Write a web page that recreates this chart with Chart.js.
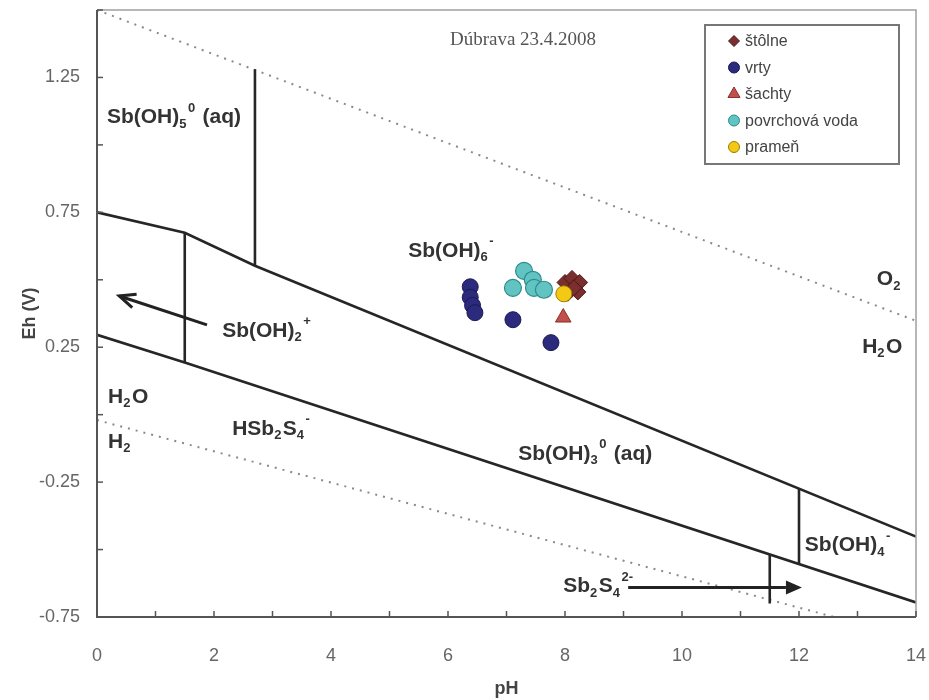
<!DOCTYPE html>
<html>
<head>
<meta charset="utf-8">
<script src="https://cdn.jsdelivr.net/npm/chart.js@4.4.1/dist/chart.umd.min.js"></script>
<style>
  html, body { margin: 0; padding: 0; background: #fff; }
  #wrap { width: 929px; height: 700px; }
</style>
</head>
<body>
<div id="wrap"><canvas id="c" width="929" height="700"></canvas></div>
<script>
// measured samples (pH, Eh in V)
const stolnePH = [8.0, 8.12, 8.25, 8.22, 8.05, 8.15];
const stolneEh = [0.49, 0.505, 0.49, 0.455, 0.45, 0.47];
const vrtyPH = [6.38, 6.38, 6.42, 6.46, 7.11, 7.76];
const vrtyEh = [0.474, 0.435, 0.405, 0.378, 0.352, 0.267];
const sachtyPH = [7.97];
const sachtyEh = [0.36];
const povrchPH = [7.30, 7.11, 7.45, 7.47, 7.64];
const povrchEh = [0.533, 0.47, 0.50, 0.47, 0.463];
const pramenPH = [7.98];
const pramenEh = [0.448];

// stability field boundaries
const upperPH = [0, 1.5, 2.7, 14];
const upperEh = [0.75, 0.674, 0.552, -0.452];
const lowerPH = [0, 1.5, 14];
const lowerEh = [0.296, 0.193, -0.696];
const vertPH = [2.7, 1.5, 12, 11.5];
const vertTop = [1.28, 0.674, -0.274, -0.518];
const vertBottom = [0.552, 0.193, -0.554, -0.70];
// water stability limits
const o2PH = [0, 14];
const o2Eh = [1.5, 0.348];
const h2PH = [0, 12.6];
const h2Eh = [-0.02, -0.75];

const yTicks = [-0.75, -0.25, 0.25, 0.75, 1.25];
const xTicks = [0, 2, 4, 6, 8, 10, 12, 14];

// species labels: segments [text, "n" | "sub" | "sup"]
const species = [
  { ph: 0.17, eh: 1.08, seg: [["Sb(OH)", "n"], ["5", "sub"], ["0", "sup"], [" (aq)", "n"]] },
  { ph: 5.32, eh: 0.585, seg: [["Sb(OH)", "n"], ["6", "sub"], ["-", "sup"]] },
  { ph: 2.14, eh: 0.289, seg: [["Sb(OH)", "n"], ["2", "sub"], ["+", "sup"]] },
  { ph: 13.33, eh: 0.481, seg: [["O", "n"], ["2", "sub"]] },
  { ph: 13.08, eh: 0.23, seg: [["H", "n"], ["2", "sub"], ["O", "n"]] },
  { ph: 0.19, eh: 0.044, seg: [["H", "n"], ["2", "sub"], ["O", "n"]] },
  { ph: 0.19, eh: -0.122, seg: [["H", "n"], ["2", "sub"]] },
  { ph: 2.31, eh: -0.074, seg: [["HSb", "n"], ["2", "sub"], ["S", "n"], ["4", "sub"], ["-", "sup"]] },
  { ph: 7.2, eh: -0.167, seg: [["Sb(OH)", "n"], ["3", "sub"], ["0", "sup"], [" (aq)", "n"]] },
  { ph: 12.1, eh: -0.507, seg: [["Sb(OH)", "n"], ["4", "sub"], ["-", "sup"]] },
  { ph: 7.97, eh: -0.659, seg: [["Sb", "n"], ["2", "sub"], ["S", "n"], ["4", "sub"], ["2-", "sup"]] },
];
const arrows = [
  { from: [1.88, 0.333], to: [0.38, 0.44], head: "open" },
  { from: [9.08, -0.641], to: [12.05, -0.641], head: "filled" },
];

const pts = (xs, ys) => xs.map((x, i) => ({ x, y: ys[i] }));
const FONT = "'Liberation Sans', Arial, sans-serif";

const boundary = (xs, ys, dashed) => ({
  type: "line",
  data: pts(xs, ys),
  borderColor: dashed ? "#8a8a8a" : "#262626",
  borderWidth: dashed ? 2 : 2.6,
  borderDash: dashed ? [2, 6] : [],
  pointRadius: 0,
  fill: false,
  tension: 0,
  order: 10,
  legendSkip: true,
});

const datasets = [
  { label: "štôlne", data: pts(stolnePH, stolneEh), pointStyle: "rectRot", pointRadius: 8,
    backgroundColor: "#7a2e2e", borderColor: "#4d1717", borderWidth: 1, order: 1 },
  { label: "vrty", data: pts(vrtyPH, vrtyEh), pointStyle: "circle", pointRadius: 8,
    backgroundColor: "#2b2a7c", borderColor: "#1b1a52", borderWidth: 1, order: 4 },
  { label: "šachty", data: pts(sachtyPH, sachtyEh), pointStyle: "triangle", pointRadius: 9,
    backgroundColor: "#c2504a", borderColor: "#8a2f2b", borderWidth: 1, order: 2 },
  { label: "povrchová voda", data: pts(povrchPH, povrchEh), pointStyle: "circle", pointRadius: 8.5,
    backgroundColor: "#62c3c3", borderColor: "#2d8b8b", borderWidth: 1.2, order: 3 },
  { label: "prameň", data: pts(pramenPH, pramenEh), pointStyle: "circle", pointRadius: 8,
    backgroundColor: "#f4c915", borderColor: "#9c7d00", borderWidth: 1, order: 0 },
  boundary(upperPH, upperEh),
  boundary(lowerPH, lowerEh),
  ...vertPH.map((p, i) => boundary([p, p], [vertTop[i], vertBottom[i]])),
  boundary(o2PH, o2Eh, true),
  boundary(h2PH, h2Eh, true),
];

function drawFormula(ctx, seg, x, y, size) {
  let cx = x;
  seg.forEach(([t, kind]) => {
    const s = kind === "n" ? size : Math.round(size * 0.62);
    const dy = kind === "sub" ? size * 0.22 : kind === "sup" ? -size * 0.55 : 0;
    ctx.font = "bold " + s + "px " + FONT;
    ctx.fillText(t, cx, y + dy);
    cx += ctx.measureText(t).width + (kind === "n" ? 0 : 1.5);
  });
}

function drawArrow(ctx, x1, y1, x2, y2, head) {
  const a = Math.atan2(y2 - y1, x2 - x1);
  const L = 16, W = 7;
  ctx.beginPath();
  ctx.moveTo(x1, y1);
  ctx.lineTo(head === "filled" ? x2 - L * Math.cos(a) : x2, head === "filled" ? y2 - L * Math.sin(a) : y2);
  ctx.stroke();
  const bx = x2 - L * Math.cos(a), by = y2 - L * Math.sin(a);
  const px = -Math.sin(a) * W, py = Math.cos(a) * W;
  ctx.beginPath();
  if (head === "filled") {
    ctx.moveTo(x2, y2);
    ctx.lineTo(bx + px, by + py);
    ctx.lineTo(bx - px, by - py);
    ctx.closePath();
    ctx.fill();
  } else {
    ctx.moveTo(bx + px, by + py);
    ctx.lineTo(x2, y2);
    ctx.lineTo(bx - px, by - py);
    ctx.stroke();
  }
}

const decor = {
  id: "decor",
  afterDraw(chart) {
    const { ctx, chartArea: a, scales: { x, y } } = chart;
    ctx.save();
    // frame
    ctx.lineWidth = 1.5;
    ctx.strokeStyle = "#a0a0a0";
    ctx.beginPath();
    ctx.moveTo(a.left, a.top); ctx.lineTo(a.right, a.top); ctx.lineTo(a.right, a.bottom);
    ctx.stroke();
    ctx.strokeStyle = "#555";
    ctx.lineWidth = 2;
    ctx.beginPath();
    ctx.moveTo(a.left, a.top); ctx.lineTo(a.left, a.bottom); ctx.lineTo(a.right, a.bottom);
    ctx.stroke();
    // inward ticks
    ctx.lineWidth = 1.5;
    x.ticks.forEach(t => {
      const px = x.getPixelForValue(t.value);
      ctx.beginPath(); ctx.moveTo(px, a.bottom); ctx.lineTo(px, a.bottom - 6); ctx.stroke();
    });
    y.ticks.forEach(t => {
      const py = y.getPixelForValue(t.value);
      ctx.beginPath(); ctx.moveTo(a.left, py); ctx.lineTo(a.left + 6, py); ctx.stroke();
    });

    // title
    ctx.fillStyle = "#555";
    ctx.font = "19px 'Liberation Serif', 'Times New Roman', serif";
    ctx.textAlign = "center";
    ctx.textBaseline = "alphabetic";
    ctx.fillText("Dúbrava 23.4.2008", 523, 45);

    // species labels
    ctx.textAlign = "left";
    ctx.fillStyle = "#333";
    species.forEach(s => drawFormula(ctx, s.seg, x.getPixelForValue(s.ph), y.getPixelForValue(s.eh), 21));

    // arrows
    ctx.strokeStyle = "#222";
    ctx.fillStyle = "#222";
    ctx.lineWidth = 3;
    arrows.forEach(r => drawArrow(ctx,
      x.getPixelForValue(r.from[0]), y.getPixelForValue(r.from[1]),
      x.getPixelForValue(r.to[0]), y.getPixelForValue(r.to[1]), r.head));

    // legend
    const items = chart.data.datasets.filter(d => !d.legendSkip);
    const lx = 705, ly = 25, lw = 194, lh = 139;
    ctx.fillStyle = "#fff";
    ctx.fillRect(lx, ly, lw, lh);
    ctx.strokeStyle = "#777";
    ctx.lineWidth = 2;
    ctx.strokeRect(lx, ly, lw, lh);
    ctx.font = "16px " + FONT;
    ctx.textBaseline = "middle";
    items.forEach((d, i) => {
      const cy = ly + 16 + i * 26.5;
      ctx.fillStyle = d.backgroundColor;
      ctx.strokeStyle = d.borderColor;
      ctx.lineWidth = 1;
      Chart.helpers.drawPoint(ctx, { pointStyle: d.pointStyle, radius: d.pointStyle === "triangle" ? 7 : 5.5, rotation: 0, borderWidth: 1 }, 734, cy);
      ctx.fillStyle = "#444";
      ctx.fillText(d.label, 745, cy + 1);
    });
    ctx.restore();
  },
};

new Chart(document.getElementById("c"), {
  type: "scatter",
  data: { datasets },
  options: {
    responsive: false,
    animation: false,
    layout: { padding: { top: 10, right: 13, left: 0, bottom: 0 } },
    plugins: { legend: { display: false }, tooltip: { enabled: false } },
    scales: {
      x: {
        type: "linear", min: 0, max: 14,
        ticks: {
          stepSize: 1, color: "#666", padding: 28, maxRotation: 0, autoSkip: false,
          font: { family: FONT, size: 18 },
          callback: v => (xTicks.includes(v) ? String(v) : ""),
        },
        grid: { display: false, drawTicks: false },
        border: { display: false },
        title: { display: true, text: "pH", color: "#444", padding: { top: 0, bottom: 0 },
          font: { family: FONT, size: 18, weight: "bold" } },
        afterFit: s => { s.height = 83; s.paddingLeft = 0; s.paddingRight = 0; },
      },
      y: {
        type: "linear", min: -0.75, max: 1.5,
        ticks: {
          stepSize: 0.25, color: "#666", padding: 17, autoSkip: false,
          font: { family: FONT, size: 18 },
          callback: v => (yTicks.some(t => Math.abs(t - v) < 1e-6) ? v.toFixed(2) : ""),
        },
        grid: { display: false, drawTicks: false },
        border: { display: false },
        title: { display: true, text: "Eh (V)", color: "#444", padding: { top: 19, bottom: 0 },
          font: { family: FONT, size: 18, weight: "bold" } },
        afterFit: s => { s.width = 97; s.paddingTop = 0; s.paddingBottom = 0; },
      },
    },
  },
  plugins: [decor],
});
</script>
</body>
</html>
